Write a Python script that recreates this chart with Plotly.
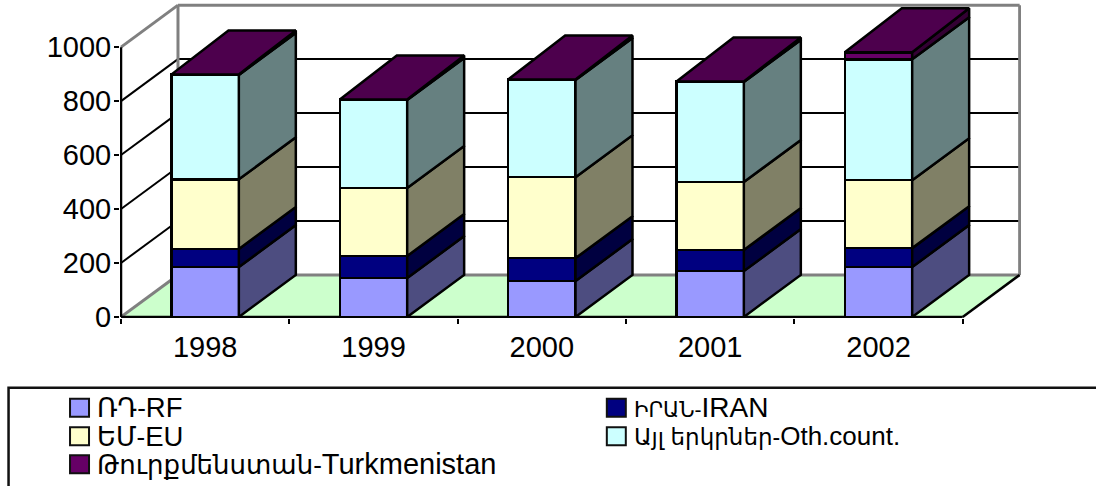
import plotly.graph_objects as go

years = ["1998", "1999", "2000", "2001", "2002"]
names_hy = ["ՌԴ-", "ԻՐԱՆ-", "ԵՄ-", "Այլ երկրներ-", "Թուրքմենստան-"]
names_en = ["RF", "IRAN", "EU", "Oth.count.", "Turkmenistan"]
rf = [185, 144, 133, 170, 185]
iran = [67, 82, 85, 78, 70]
eu = [258, 252, 300, 252, 252]
other = [387, 326, 360, 371, 448]
turkmenistan = [2, 2, 2, 2, 26]
y_ticks = [0, 200, 400, 600, 800, 1000]

front_colors = ["#9999FF", "#000080", "#FFFFCC", "#CCFFFF", "#660066"]
side_colors = ["#4D4D80", "#000040", "#808066", "#668080", "#330033"]
top_color = "#4D004D"
hy_sizes = [26, 21, 26, 23, 26]
en_sizes = [27.5, 28, 27.5, 26, 29]

all_series = [rf, iran, eu, other, turkmenistan]
series_names = [a + b for a, b in zip(names_hy, names_en)]

W, H = 1096, 486
PX_X = 168.4      # pixels per category
PX_Y = 0.27       # pixels per value unit
X0_PX, Y0_PX = 121, 317
DX = 57 / PX_X    # oblique depth offset in axis units
DY = 42 / PX_Y
DY_TOP = 44 / PX_Y
BAR_W = 0.4
FONT = "Liberation Sans, Arial, DejaVu Sans, sans-serif"
LW = 2.5

x_range = [-0.506, 4.5 + DX + 0.008]
y_range = [-4, 1000 + DY + 8]
left = X0_PX + (x_range[0] + 0.5) * PX_X
right = X0_PX + (x_range[1] + 0.5) * PX_X
top = Y0_PX - y_range[1] * PX_Y
bottom = Y0_PX - y_range[0] * PX_Y


def px_x(p):
    return (p - left) / (right - left)


def px_y(p):
    return (bottom - p) / (bottom - top)


shapes = []


def line(x0, y0, x1, y1, color="black", width=2):
    shapes.append(dict(type="line", layer="below", x0=x0, y0=y0, x1=x1, y1=y1,
                       line=dict(color=color, width=width)))


# floor
xL, xR = -0.5, 4.5
shapes.append(dict(type="path", layer="below",
                   path=f"M{xL},0 L{xR},0 L{xR + DX},{DY} L{xL + DX},{DY} Z",
                   fillcolor="#CCFFCC", line=dict(width=0)))
# gridlines on the left and back walls
for t in y_ticks[1:-1]:
    line(xL, t, xL + DX, t + DY)
    line(xL + DX, t + DY, xR + DX, t + DY)
# wall outline
GRAY = "#808080"
line(xL, 0, xL + DX, DY, GRAY, 3)
line(xL, 1000, xL + DX, 1000 + DY, GRAY, 3)
line(xL + DX, DY, xL + DX, 1000 + DY, GRAY, 3)
line(xL + DX, 1000 + DY, xR + DX, 1000 + DY, GRAY, 3)
line(xR + DX, DY, xR + DX, 1000 + DY, GRAY, 3)
line(xL + DX, DY, xR + DX, DY, GRAY, 3)
# front floor edges and value axis
line(xL, 0, xR, 0, width=LW)
line(xR, 0, xR + DX, DY, width=LW)
line(xL, 0, xL, 1000, width=LW)

fig = go.Figure()

# front faces
for name, vals, col in zip(series_names, all_series, front_colors):
    fig.add_trace(go.Bar(x=list(range(len(years))), y=vals, name=name, width=BAR_W,
                         marker=dict(color=col, line=dict(color="black", width=LW)),
                         cliponaxis=False, hoverinfo="skip", showlegend=False))

# side faces and top faces, from the stacked values
base = [0] * len(years)
n_series = len(all_series)
for s, (name, vals, col) in enumerate(zip(series_names, all_series, side_colors)):
    xs, ys = [], []
    upper_depth = DY_TOP if s == n_series - 1 else DY
    for i, v in enumerate(vals):
        xr = i + BAR_W / 2
        b, t = base[i], base[i] + v
        xs += [xr, xr + DX, xr + DX, xr, xr, None]
        ys += [b, b + DY, t + upper_depth, t, b, None]
        base[i] = t
    fig.add_trace(go.Scatter(x=xs, y=ys, mode="lines", fill="toself", fillcolor=col,
                             line=dict(color="black", width=LW), cliponaxis=False,
                             hoverinfo="skip", showlegend=False))
xs, ys = [], []
for i, t in enumerate(base):
    xa, xb = i - BAR_W / 2, i + BAR_W / 2
    xs += [xa, xb, xb + DX, xa + DX, xa, None]
    ys += [t, t, t + DY_TOP, t + DY_TOP, t, None]
fig.add_trace(go.Scatter(x=xs, y=ys, mode="lines", fill="toself", fillcolor=top_color,
                         line=dict(color="black", width=LW), cliponaxis=False,
                         hoverinfo="skip", showlegend=False))

# legend frame, swatches and labels
shapes.append(dict(type="rect", xref="paper", yref="paper", layer="above",
                   x0=px_x(8.5), x1=px_x(1130), y0=px_y(388), y1=px_y(520),
                   line=dict(color="#111111", width=2.5), fillcolor="rgba(0,0,0,0)"))
legend_cols = [70, 607]
legend_rows = [408, 436.5, 464.5]
annotations = []
for k, (hy, en, col, size, en_size) in enumerate(zip(names_hy, names_en, front_colors, hy_sizes, en_sizes)):
    sx = legend_cols[k % 2]
    sy = legend_rows[k // 2]
    shapes.append(dict(type="rect", xref="paper", yref="paper", layer="above",
                       x0=px_x(sx), x1=px_x(sx + 19), y0=px_y(sy - 9), y1=px_y(sy + 9),
                       fillcolor=col, line=dict(color="#111111", width=2)))
    annotations.append(dict(xref="paper", yref="paper", x=px_x(sx + 25), y=px_y(sy),
                            text=f'<span style="font-size:{size}px">{hy}</span>{en}',
                            showarrow=False, xanchor="left", yanchor="middle",
                            font=dict(family=FONT, size=en_size, color="black")))

fig.update_layout(
    width=W, height=H, autosize=False, barmode="stack", showlegend=False,
    paper_bgcolor="white", plot_bgcolor="white",
    margin=dict(l=left, r=W - right, t=top, b=H - bottom, pad=0),
    shapes=shapes, annotations=annotations,
    font=dict(family=FONT, color="black"),
    xaxis=dict(range=x_range, tickvals=list(range(len(years))), ticktext=years,
               showgrid=False, zeroline=False, showline=False, ticks="",
               tickfont=dict(size=29, family=FONT, color="black"), ticklabelstandoff=9,
               minor=dict(tickvals=[i - 0.5 for i in range(len(years) + 1)], ticks="outside",
                          ticklen=5, tickwidth=2, tickcolor="black", showgrid=False)),
    yaxis=dict(range=y_range, tickvals=y_ticks, showgrid=False, zeroline=False, showline=False,
               ticks="outside", ticklen=5, tickwidth=2, tickcolor="black",
               ticklabelstandoff=-3,
               tickfont=dict(size=29, family=FONT, color="black")),
)

fig.write_html("out.html", config={"displayModeBar": False},
               post_script="document.body.style.margin='0';document.documentElement.style.overflow='hidden';")
